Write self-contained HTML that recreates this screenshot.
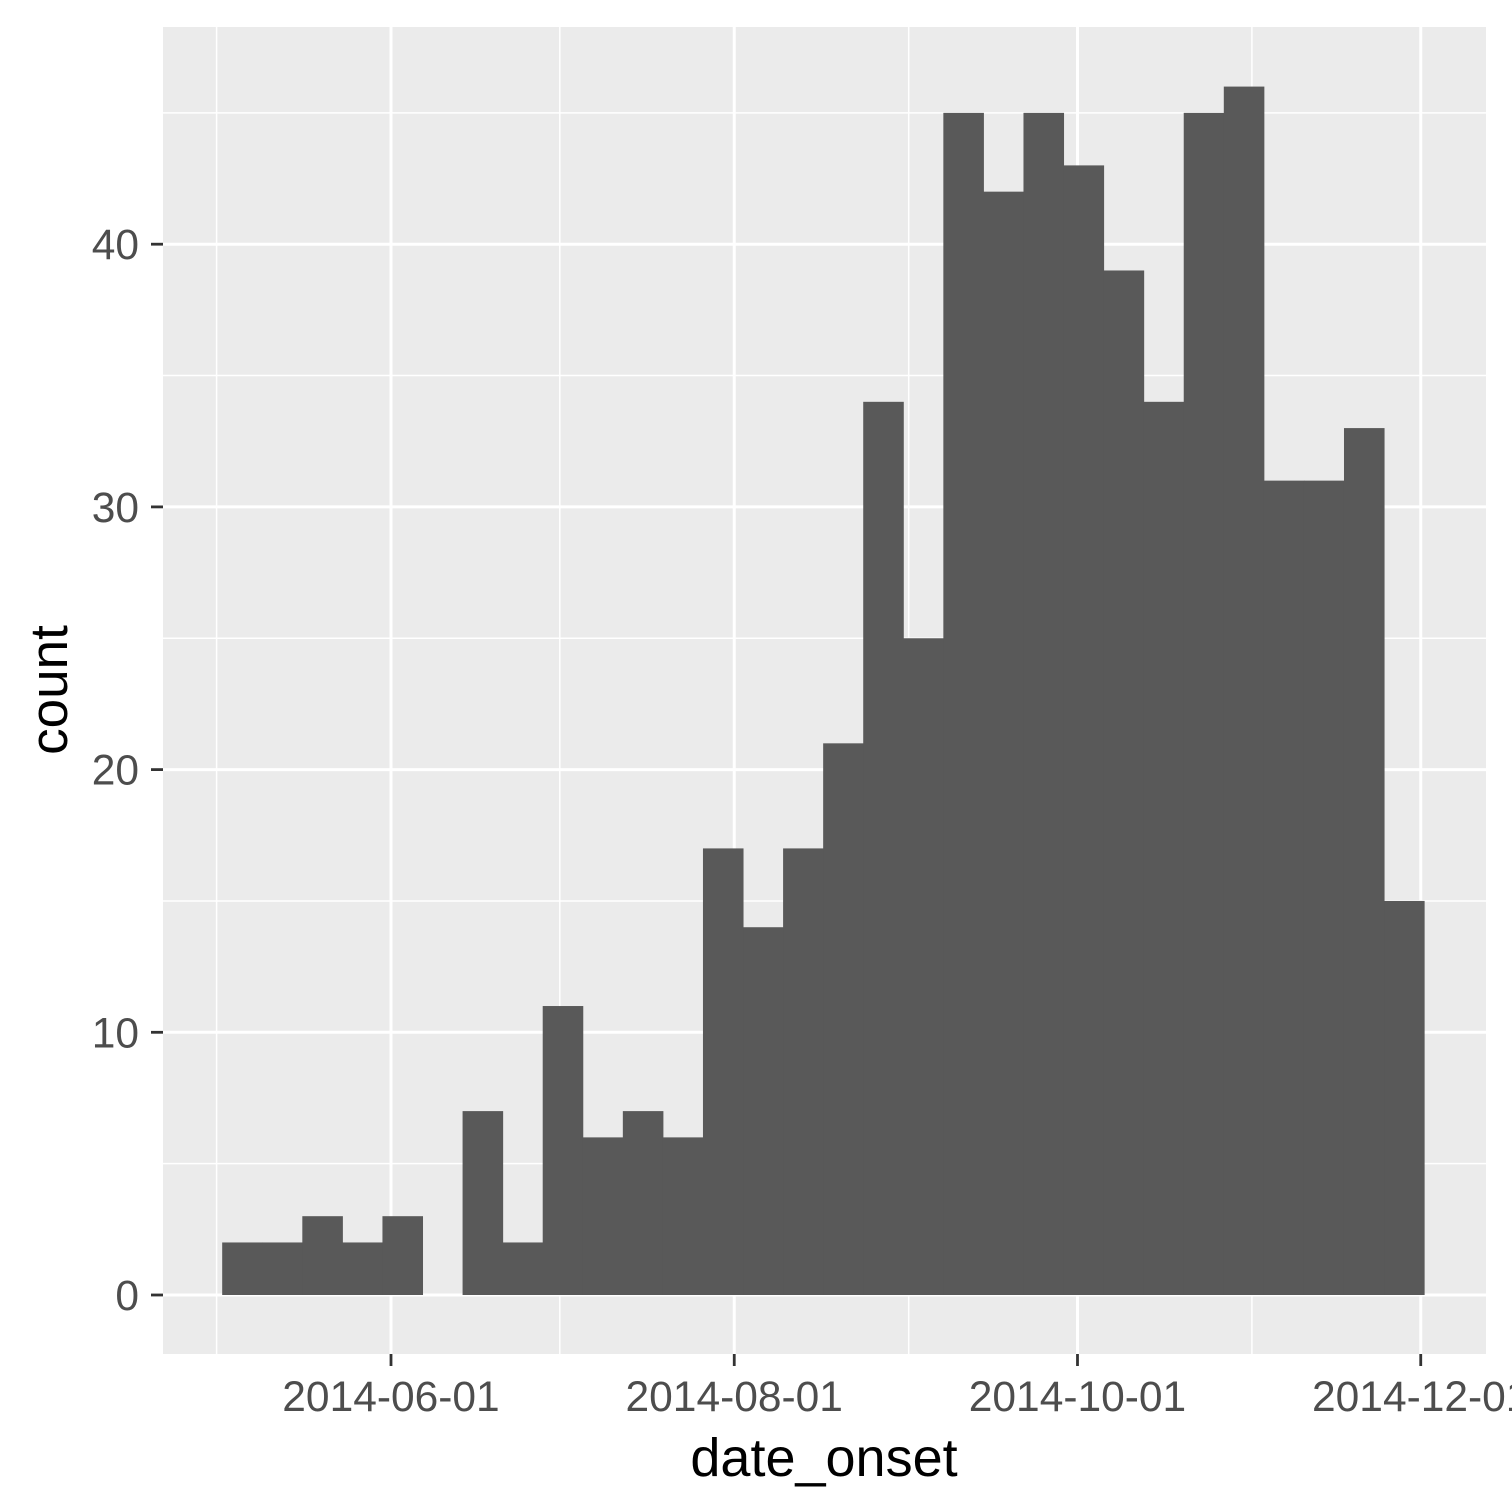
<!DOCTYPE html>
<html><head><meta charset="utf-8"><style>
html,body{margin:0;padding:0;background:#fff;overflow:hidden}
svg{display:block}
text{font-family:"Liberation Sans",Arial,sans-serif}
</style></head><body>
<svg id="chart" width="1512" height="1512" viewBox="0 0 1512 1512" xmlns="http://www.w3.org/2000/svg">
<rect x="0" y="0" width="1512" height="1512" fill="#fff"/>
<rect x="163" y="27" width="1323" height="1327" fill="#EBEBEB"/>
<g id="grid"></g><g id="bars"></g><g id="axes"></g>
<text x="824" y="1476" font-size="54" text-anchor="middle" fill="#000">date_onset</text>
<text transform="translate(67,690) rotate(-90)" font-size="53" text-anchor="middle" fill="#000">count</text>
</svg>
<script>
const counts = [2,2,3,2,3,0,7,2,11,6,7,6,17,14,17,21,34,25,45,42,45,43,39,34,45,46,31,31,33,15];
const binStart = "2014-05-02";
const binDays = 7.12;
const yTicks = [0,10,20,30,40];
const yMinor = [5,15,25,35,45];
const xTickLabels = ["2014-06-01","2014-08-01","2014-10-01","2014-12-01"];
const xMinorDates = ["2014-05-01","2014-07-01","2014-09-01","2014-11-01"];

const NS="http://www.w3.org/2000/svg";
const DAY=86400000;
const ref=Date.UTC(2014,5,1);
function dnum(s){const p=s.split("-");return (Date.UTC(+p[0],+p[1]-1,+p[2])-ref)/DAY;}
function xs(days){return 391+days*5.627;}
function ys(v){return 1295-v*26.27;}
function mk(tag,attrs,parent){const e=document.createElementNS(NS,tag);for(const k in attrs)e.setAttribute(k,attrs[k]);parent.appendChild(e);return e;}
const grid=document.getElementById("grid"),bars=document.getElementById("bars"),axes=document.getElementById("axes");

yMinor.forEach(v=>{
  const l=mk("line",{x1:163,x2:1486,y1:ys(v),y2:ys(v),stroke:"#fff","stroke-width":1.5},grid);
  
  
});
xMinorDates.forEach(d=>{
  const x=xs(dnum(d));
  const l=mk("line",{x1:x,x2:x,y1:27,y2:1354,stroke:"#fff","stroke-width":1.5},grid);
  
  
});
yTicks.forEach(v=>{
  const y=ys(v);
  const l=mk("line",{x1:163,x2:1486,y1:y,y2:y,stroke:"#fff","stroke-width":3},grid);
  
  
  const t=mk("line",{x1:151,x2:163,y1:y,y2:y,stroke:"#333","stroke-width":2.8},axes);
  
  
  const tx=mk("text",{x:139,y:y+15,"font-size":42.5,"text-anchor":"end",fill:"#4D4D4D"},axes);
  tx.textContent=v;
  
  
});
xTickLabels.forEach(d=>{
  const x=xs(dnum(d));
  const l=mk("line",{x1:x,x2:x,y1:27,y2:1354,stroke:"#fff","stroke-width":3},grid);
  
  
  const t=mk("line",{x1:x,x2:x,y1:1354,y2:1366,stroke:"#333","stroke-width":2.8},axes);
  
  
  const tx=mk("text",{x:x,y:1411,"font-size":42.5,"text-anchor":"middle",fill:"#4D4D4D"},axes);
  tx.textContent=d;
  
  
});
const s0=dnum(binStart);
counts.forEach((c,i)=>{
  if(c<=0)return;
  const x0=xs(s0+i*binDays),x1=xs(s0+(i+1)*binDays);
  const r=mk("rect",{x:x0,y:ys(c),width:x1-x0+0.5,height:ys(0)-ys(c),fill:"#595959"},bars);
  
  
});
</script>
</body></html>
